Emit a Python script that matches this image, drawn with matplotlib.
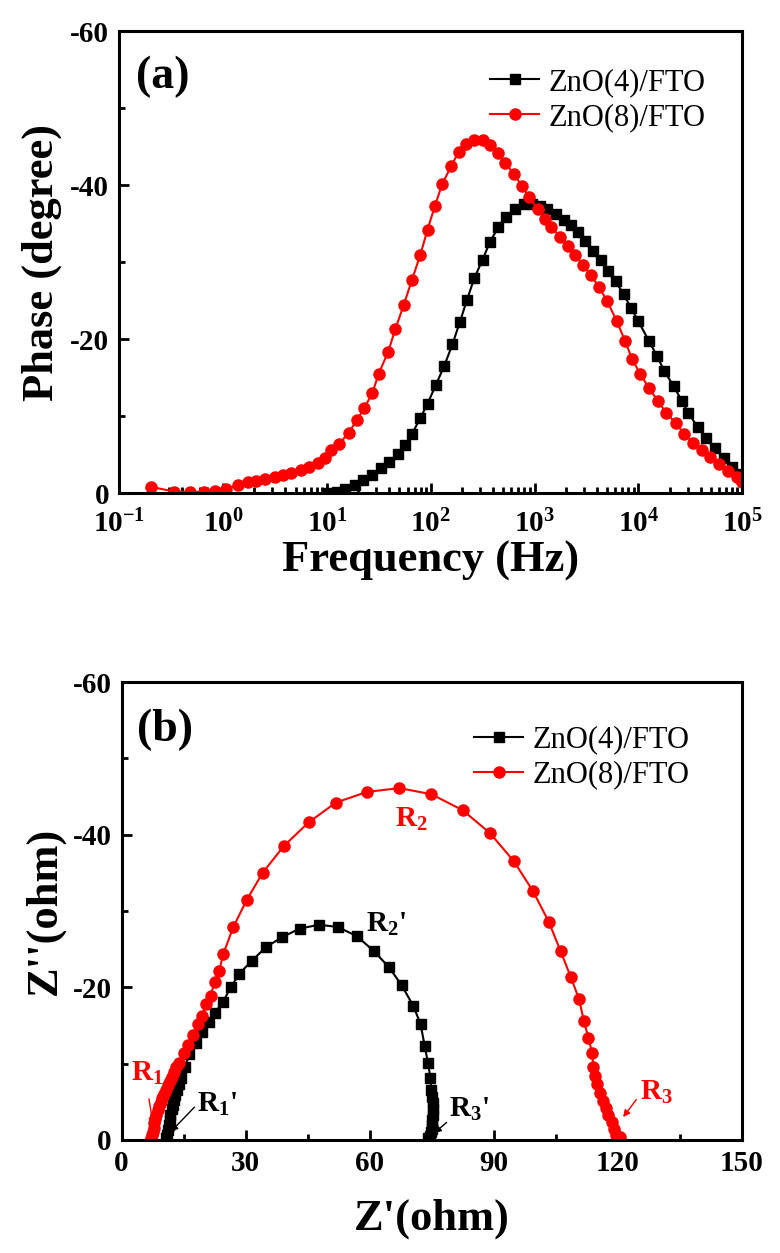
import numpy as np
import matplotlib
matplotlib.use("Agg")
import matplotlib.pyplot as plt
from matplotlib.ticker import FixedLocator, LogLocator, NullFormatter, FuncFormatter

# ---------------- data: (a) Bode phase ----------------
freq_4 = [10.0, 12.6, 15.1, 18.6, 22.4, 27.5, 33.1, 39.8, 49.0, 56.2, 66.1, 79.4, 93.3,
          112, 135, 162, 191, 224, 263, 316, 372, 447, 537, 646, 794, 955, 1122, 1318,
          1622, 1905, 2239, 2630, 3090, 3631, 4365, 5129, 6026, 7244, 8511, 10000,
          12590, 15140, 17780, 21880, 26300, 30200, 37150, 44670, 54950, 66070,
          79430, 93330, 100000]
phase_4 = [0, -0.2, -0.5, -1.1, -1.7, -2.3, -3.2, -4.0, -5.1, -6.2, -7.7, -9.7, -11.6,
           -14.0, -16.5, -19.3, -22.2, -25.1, -27.9, -30.3, -32.6, -34.5, -35.8, -36.9,
           -37.5, -37.6, -37.3, -36.9, -36.3, -35.5, -34.8, -33.9, -32.8, -31.5, -30.3,
           -28.9, -27.5, -25.8, -24.0, -22.3, -19.8, -17.8, -15.8, -13.9, -11.9, -10.4,
           -8.6, -7.1, -5.8, -4.5, -3.4, -2.5, -1.8]

freq_8 = [0.204, 0.339, 0.479, 0.661, 0.832, 1.07, 1.41, 1.74, 2.09, 2.57, 3.16, 3.80,
          4.57, 5.62, 6.76, 8.32, 9.55, 11.0, 13.2, 16.2, 19.5, 22.9, 27.5, 31.6, 38.9,
          45.7, 55.0, 66.1, 79.4, 93.3, 110, 129, 158, 186, 219, 263, 316, 372, 447,
          525, 631, 759, 891, 1072, 1259, 1445, 1778, 2089, 2455, 2951, 3467, 4169,
          5012, 6166, 7413, 8710, 10470, 12590, 15490, 18620, 22910, 27540, 33880,
          40740, 48980, 60260, 72440, 89130, 100000]
phase_8 = [-0.8, -0.2, -0.1, -0.2, -0.3, -0.5, -1.1, -1.4, -1.6, -1.8, -2.1, -2.4, -2.6,
           -3.0, -3.4, -3.9, -4.5, -5.6, -6.4, -7.8, -9.5, -11.0, -13.0, -15.5, -18.3,
           -21.3, -24.4, -27.7, -30.9, -34.2, -37.3, -40.1, -42.5, -44.3, -45.3, -45.8,
           -45.8, -45.2, -44.2, -42.9, -41.4, -39.9, -38.4, -36.9, -35.6, -34.5, -33.3,
           -32.1, -30.9, -29.6, -28.3, -26.8, -24.9, -22.4, -19.8, -17.4, -15.4, -13.7,
           -11.9, -10.4, -9.1, -7.7, -6.5, -5.6, -4.7, -3.8, -2.9, -2.1, -1.4]

# ---------------- data: (b) Nyquist ----------------
zre_4 = [10.8, 11.0, 11.2, 11.4, 11.6, 11.8, 12.1, 12.4, 12.7, 13.0, 13.4, 13.8, 14.3,
         15.2, 16.4, 18.0, 19.4, 21.1, 22.6, 24.5, 26.4, 28.5, 31.5, 35.0, 38.9, 43.1,
         47.8, 52.3, 56.9, 61.1, 64.7, 67.7, 70.5, 72.3, 73.3, 74.1, 74.7, 74.9, 75.1,
         75.2, 75.2, 75.2, 75.1, 75.1, 75.0, 74.8, 74.5, 74.0]
zim_4 = [-0.2, -0.7, -1.3, -1.9, -2.6, -3.3, -4.0, -4.6, -5.3, -5.9, -6.6, -7.3, -8.1,
         -9.5, -11.2, -12.7, -14.1, -15.4, -16.7, -18.1, -20.0, -21.8, -23.5, -25.3,
         -26.6, -27.7, -28.2, -27.9, -26.7, -24.7, -22.6, -20.3, -17.6, -15.2, -12.3,
         -10.1, -8.1, -6.6, -5.6, -4.8, -4.0, -3.3, -2.6, -2.0, -1.5, -1.0, -0.5, -0.2]

zre_8 = [7.1, 7.3, 7.5, 7.7, 7.9, 8.1, 8.4, 8.7, 9.0, 9.4, 9.8, 10.2, 10.6, 11.1, 11.6,
         12.1, 12.6, 13.2, 13.8, 15.0, 16.1, 17.3, 18.4, 19.5, 20.5, 21.5, 22.5, 23.6,
         24.6, 27.0, 30.3, 34.1, 39.2, 45.2, 51.8, 59.3, 67.2, 74.9, 82.5, 89.1, 94.9,
         99.5, 103.3, 106.2, 108.6, 110.6, 111.8, 112.9, 113.8, 114.1, 114.5, 115.0,
         115.6, 116.4, 117.1, 117.7, 118.5, 119.0, 119.5, 120.1, 120.6]
zim_8 = [-0.2, -0.6, -1.1, -1.6, -2.2, -2.7, -3.3, -3.9, -4.4, -5.0, -5.5, -6.0, -6.6,
         -7.2, -7.7, -8.3, -8.9, -9.5, -10.1, -11.4, -12.5, -13.8, -15.2, -16.3, -17.8,
         -18.9, -20.7, -22.2, -24.4, -27.9, -31.5, -35.0, -38.5, -41.6, -44.2, -45.6,
         -46.1, -45.3, -43.2, -40.2, -36.5, -32.6, -28.6, -24.7, -21.4, -18.5, -15.6,
         -13.4, -11.4, -9.5, -8.4, -7.3, -6.2, -5.1, -4.2, -3.3, -2.4, -1.5, -0.7,
         -0.4, -0.35]

labels = ["ZnO(4)/FTO", "ZnO(8)/FTO"]
decades = [1e-1, 1e0, 1e1, 1e2, 1e3, 1e4, 1e5]

plt.rcParams["font.family"] = ["Liberation Serif", "DejaVu Serif"]
plt.rcParams["font.weight"] = "bold"
plt.rcParams["axes.labelweight"] = "bold"
plt.rcParams["axes.unicode_minus"] = False
plt.rcParams["mathtext.fontset"] = "custom"
plt.rcParams["mathtext.rm"] = "Liberation Serif:bold"
plt.rcParams["mathtext.it"] = "Liberation Serif:bold"
plt.rcParams["mathtext.bf"] = "Liberation Serif:bold"


def style_axes(ax):
    for sp in ax.spines.values():
        sp.set_linewidth(2.2)
    ax.tick_params(which="both", direction="in", top=False, right=False,
                   width=2, labelsize=21, pad=7)
    ax.tick_params(which="major", length=7)
    ax.tick_params(which="minor", length=4)


leg_kw = dict(loc="upper right", frameon=False, numpoints=1, handlelength=1.6,
              handletextpad=0.3, labelspacing=0.2,
              prop={"family": "Liberation Serif", "weight": "normal", "size": 22})

fig = plt.figure(figsize=(7.8, 12.53), dpi=100)

# ---------------- panel (a) ----------------
ax1 = fig.add_axes([0.1526, 0.6065, 0.799, 0.3687])
ax1.semilogx(freq_4, phase_4, "-s", color="black", ms=7, lw=1.5, label=labels[0])
ax1.semilogx(freq_8, phase_8, "-o", color="red", ms=8, lw=1.5, label=labels[1])
ax1.set_xlim(1e-1, 1e5)
ax1.set_ylim(0, -60)
ax1.xaxis.set_major_locator(FixedLocator(decades))
ax1.xaxis.set_major_formatter(FuncFormatter(lambda v, p: r"$10^{%d}$" % round(np.log10(v))))
ax1.xaxis.set_minor_locator(LogLocator(base=10, subs=range(2, 10), numticks=20))
ax1.xaxis.set_minor_formatter(NullFormatter())
ax1.yaxis.set_major_locator(FixedLocator([0, -20, -40, -60]))
ax1.yaxis.set_minor_locator(FixedLocator([-10, -30, -50]))
style_axes(ax1)
ax1.tick_params(axis="x", pad=12)
ax1.set_xlabel("Frequency (Hz)", fontsize=32, labelpad=2)
ax1.set_ylabel("Phase (degree)", fontsize=32, labelpad=6)
ax1.text(0.027, 0.877, "(a)", transform=ax1.transAxes, fontsize=33, fontweight="bold")
ax1.legend(bbox_to_anchor=(0.985, 0.98), **leg_kw)

# ---------------- panel (b) ----------------
ax2 = fig.add_axes([0.156, 0.0902, 0.795, 0.3655])
ax2.plot(zre_4, zim_4, "-s", color="black", ms=7, lw=1.5, label=labels[0])
ax2.plot(zre_8, zim_8, "-o", color="red", ms=8, lw=1.5, label=labels[1])
ax2.set_xlim(0, 150)
ax2.set_ylim(0, -60)
ax2.xaxis.set_major_locator(FixedLocator([0, 30, 60, 90, 120, 150]))
ax2.xaxis.set_minor_locator(FixedLocator([15, 45, 75, 105, 135]))
ax2.yaxis.set_major_locator(FixedLocator([0, -20, -40, -60]))
ax2.yaxis.set_minor_locator(FixedLocator([-10, -30, -50]))
style_axes(ax2)
ax2.set_xlabel("Z'(ohm)", fontsize=32, labelpad=16)
ax2.set_ylabel("Z''(ohm)", fontsize=32, labelpad=6)
ax2.text(0.025, 0.87, "(b)", transform=ax2.transAxes, fontsize=33, fontweight="bold")
ax2.legend(bbox_to_anchor=(0.96, 0.965), **leg_kw)

arrow_kw = dict(arrowstyle="-|>", lw=1.0, mutation_scale=10, shrinkA=0, shrinkB=0)
ann = [
    # text, text pos, tail, tip, colour
    (r"R$_1$", (2.2, -7.7), (6.6, -5.4), (7.6, -2.0), "red"),
    (r"R$_1$'", (18.2, -3.7), (17.6, -4.3), (11.9, -1.1), "black"),
    (r"R$_3$'", (79.1, -3.1), (78.6, -2.3), (75.6, -0.9), "black"),
    (r"R$_3$", (125.3, -5.3), (124.5, -5.3), (121.3, -3.0), "red"),
]
for txt, pos, tail, tip, col in ann:
    ax2.text(pos[0], pos[1], txt, color=col, fontsize=21, fontweight="bold", va="baseline")
    ax2.annotate("", xy=tip, xytext=tail, arrowprops=dict(color=col, **arrow_kw))
ax2.text(66.0, -41.0, r"R$_2$", color="red", fontsize=21, fontweight="bold", va="baseline")
ax2.text(59.0, -27.3, r"R$_2$'", color="black", fontsize=21, fontweight="bold", va="baseline")

fig.savefig("out.png", dpi=100)
